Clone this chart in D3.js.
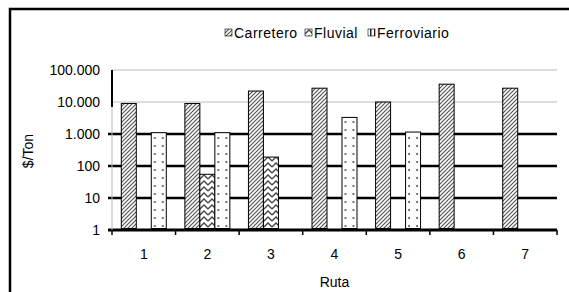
<!DOCTYPE html>
<meta charset="utf-8">
<head>
    <script src="https://d3js.org/d3.v7.min.js"></script>
    <style>
        body { margin: 0; background: #fff; }
        text { font-family: "Liberation Sans", Arial, sans-serif; fill: #000; }
    </style>
</head>
<body>
<script type="text/javascript">

    // data
    var routes = ["1", "2", "3", "4", "5", "6", "7"];
    var seriesNames = ["Carretero", "Fluvial", "Ferroviario"];
    var carretero = [9000, 9000, 22000, 27000, 10000, 36000, 27000];
    var fluvial = [null, 55, 190, null, null, null, null];
    var ferroviario = [1100, 1100, null, 3300, 1150, null, null];
    var yTicks = [1, 10, 100, 1000, 10000, 100000];

    var width = 569;
    var height = 292;
    var plot = {left: 112, right: 557, top: 70, bottom: 230};

    var svg = d3.select("body")
        .append("svg")
        .attr("width", width)
        .attr("height", height);

    var x = d3.scaleBand()
        .domain(routes)
        .range([plot.left, plot.right]);

    var xs = d3.scaleBand()
        .domain(seriesNames)
        .range([0, x.bandwidth()])
        .paddingOuter(0.62);

    var y = d3.scaleLog()
        .domain([1, 100000])
        .range([plot.bottom, plot.top]);

    var locale = d3.formatLocale({decimal: ",", thousands: ".", grouping: [3], currency: ["$", ""]});
    var fmt = locale.format(",");

    // patterns
    var defs = svg.append("defs");

    var p1 = defs.append("pattern")
        .attr("id", "pat-carretero")
        .attr("patternUnits", "userSpaceOnUse")
        .attr("width", 4).attr("height", 4);
    p1.append("rect").attr("width", 4).attr("height", 4).attr("fill", "#fff");
    p1.append("path")
        .attr("d", "M-1,1 l2,-2 M0,4 l4,-4 M3,5 l2,-2")
        .attr("stroke", "#555").attr("stroke-width", 1.2);

    var p2 = defs.append("pattern")
        .attr("id", "pat-fluvial")
        .attr("patternUnits", "userSpaceOnUse")
        .attr("width", 8).attr("height", 6);
    p2.append("rect").attr("width", 8).attr("height", 6).attr("fill", "#fff");
    p2.append("path")
        .attr("d", "M0,5 L4,1 L8,5")
        .attr("fill", "none")
        .attr("stroke", "#444").attr("stroke-width", 1.3);

    // dots line up with the Ferroviario slot of every category
    var ferroX = xs("Ferroviario");
    var p3 = defs.append("pattern")
        .attr("id", "pat-ferroviario")
        .attr("patternUnits", "userSpaceOnUse")
        .attr("x", plot.left)
        .attr("y", plot.bottom)
        .attr("width", x.step()).attr("height", 8);
    p3.append("rect").attr("width", x.step()).attr("height", 8).attr("fill", "#fff");
    p3.append("circle").attr("cx", ferroX + 3.5).attr("cy", 4).attr("r", 0.9).attr("fill", "#333");
    p3.append("circle").attr("cx", ferroX + xs.bandwidth() - 3.5).attr("cy", 4).attr("r", 0.9).attr("fill", "#333");

    // small legend swatch for the dotted series
    var p4 = defs.append("pattern")
        .attr("id", "pat-ferro-key")
        .attr("patternUnits", "userSpaceOnUse")
        .attr("width", 4).attr("height", 4);
    p4.append("rect").attr("width", 4).attr("height", 4).attr("fill", "#fff");
    p4.append("rect").attr("x", 2).attr("width", 1.5).attr("height", 4).attr("fill", "#222");

    var fills = {
        "Carretero": "url(#pat-carretero)",
        "Fluvial": "url(#pat-fluvial)",
        "Ferroviario": "url(#pat-ferroviario)"
    };
    var keyFills = {
        "Carretero": "url(#pat-carretero)",
        "Fluvial": "url(#pat-fluvial)",
        "Ferroviario": "url(#pat-ferro-key)"
    };

    // outer frame
    svg.append("rect")
        .attr("x", 10).attr("y", 9)
        .attr("width", 600).attr("height", 320)
        .attr("fill", "none")
        .attr("stroke", "#000")
        .attr("stroke-width", 2.5);

    // gridlines
    svg.append("g")
        .selectAll("line")
        .data(yTicks)
        .enter()
        .append("line")
        .attr("x1", function (d) { return d <= 1000 ? plot.left - 4 : plot.left; })
        .attr("x2", plot.right)
        .attr("y1", function (d) { return y(d); })
        .attr("y2", function (d) { return y(d); })
        .attr("stroke", function (d) { return d <= 1000 ? "#000" : "#bbb"; })
        .attr("stroke-width", function (d) { return d === 1 ? 3 : (d <= 1000 ? 2.5 : 1); });

    // y axis line
    svg.append("line")
        .attr("x1", plot.left).attr("x2", plot.left)
        .attr("y1", plot.top).attr("y2", plot.bottom)
        .attr("stroke", "#bbb");
    svg.append("line")
        .attr("x1", plot.left).attr("x2", plot.left)
        .attr("y1", y(100000)).attr("y2", y(7000))
        .attr("stroke", "#000")
        .attr("stroke-width", 2);

    // y tick labels
    svg.append("g")
        .selectAll("text")
        .data(yTicks)
        .enter()
        .append("text")
        .attr("x", plot.left - 12)
        .attr("y", function (d) { return y(d); })
        .attr("dy", "0.36em")
        .attr("text-anchor", "end")
        .style("font-size", "14px")
        .text(function (d) { return fmt(d); });

    // x ticks between categories
    var bounds = routes.map(function (r) { return x(r); }).concat([plot.right]);
    svg.append("g")
        .selectAll("line")
        .data(bounds)
        .enter()
        .append("line")
        .attr("x1", function (d) { return d; })
        .attr("x2", function (d) { return d; })
        .attr("y1", plot.bottom)
        .attr("y2", plot.bottom + 5)
        .attr("stroke", "#000")
        .attr("stroke-width", 1.5);

    // bars
    var rows = [];
    routes.forEach(function (r, i) {
        rows.push({route: r, name: "Carretero", value: carretero[i]});
        rows.push({route: r, name: "Fluvial", value: fluvial[i]});
        rows.push({route: r, name: "Ferroviario", value: ferroviario[i]});
    });

    svg.append("g")
        .selectAll("rect")
        .data(rows.filter(function (d) { return d.value != null; }))
        .enter()
        .append("rect")
        .attr("x", function (d) { return x(d.route) + xs(d.name); })
        .attr("width", xs.bandwidth())
        .attr("y", function (d) { return y(d.value); })
        .attr("height", function (d) { return plot.bottom - 1.5 - y(d.value); })
        .attr("fill", function (d) { return fills[d.name]; })
        .attr("stroke", "#000")
        .attr("stroke-width", 1);

    // x tick labels
    svg.append("g")
        .selectAll("text")
        .data(routes)
        .enter()
        .append("text")
        .attr("x", function (d) { return x(d) + x.bandwidth() / 2; })
        .attr("y", 259)
        .attr("text-anchor", "middle")
        .style("font-size", "14px")
        .text(function (d) { return d; });

    // axis titles
    svg.append("text")
        .attr("x", (plot.left + plot.right) / 2)
        .attr("y", 287)
        .attr("text-anchor", "middle")
        .style("font-size", "14px")
        .text("Ruta");

    svg.append("text")
        .attr("transform", "translate(33,151) rotate(-90)")
        .attr("text-anchor", "middle")
        .style("font-size", "14px")
        .text("$/Ton");

    // legend
    var legendX = [225, 305, 368];
    var legend = svg.append("g")
        .selectAll("g")
        .data(seriesNames)
        .enter()
        .append("g")
        .attr("transform", function (d, i) { return "translate(" + legendX[i] + ",29)"; });

    legend.append("rect")
        .attr("width", 7)
        .attr("height", 7)
        .attr("fill", function (d) { return keyFills[d]; })
        .attr("stroke", "#000")
        .attr("stroke-width", 0.6);

    legend.append("text")
        .attr("x", 9)
        .attr("y", 4)
        .attr("dy", "0.36em")
        .style("font-size", "14px")
        .style("letter-spacing", "0.5px")
        .text(function (d) { return d; });

</script>
</body>
</html>
